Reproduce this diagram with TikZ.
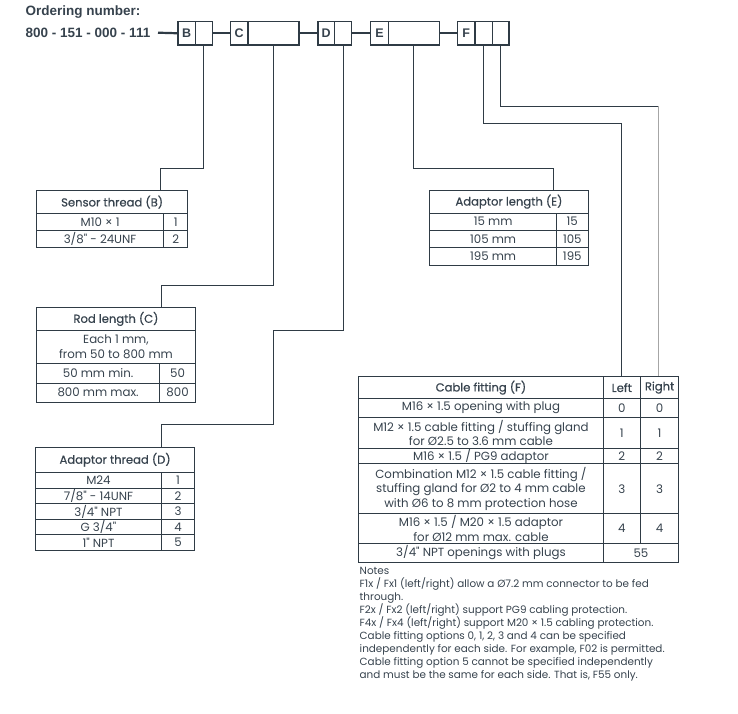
\documentclass[tikz,border=0pt]{standalone}
\usepackage{fontspec}
\setmainfont{Poppins}
\newfontfamily\hdrfont{Liberation Sans}
\newfontfamily\medfont[FakeBold=0.6]{Poppins}
\newfontfamily\plainpop[Ligatures=ResetAll]{Poppins}
\newcommand\inchmark{{\plainpop\symbol{34}}}
\definecolor{linec}{HTML}{2F3B45}
\definecolor{textc}{HTML}{36424D}
\begin{document}
\begin{tikzpicture}[x=1pt,y=-1pt,
  every node/.style={text=textc},
  hdr/.style={font=\hdrfont\bfseries\fontsize{13.5}{15}\selectfont, inner sep=0pt, anchor=west},
  hbox/.style={draw=linec, line width=1.2pt, anchor=north west, inner sep=0pt, minimum height=23.3pt, font=\hdrfont\bfseries\fontsize{12.5}{14}\selectfont},
  link/.style={draw=linec, line width=2.2pt},
  conn/.style={draw=linec, line width=1pt},
  cell/.style={draw=linec, line width=0.9pt, anchor=north west, inner sep=0pt, align=center, font=\fontsize{11.8}{14.6}\selectfont},
  hcell/.style={cell, font=\medfont\fontsize{11.6}{13}\selectfont},
  notes/.style={anchor=north west, inner sep=0pt, align=left, font=\fontsize{10.4}{12.9}\selectfont}
]
\useasboundingbox (0,0) rectangle (738,713);

% header
\node[hdr] (ordlbl) at (25.5,12) {Ordering number:};
\node[hdr] (ordnum) at (25.5,33) {800 - 151 - 000 - 111};

\node[hbox, minimum width=17.7pt] (bB) at (177.3,21) {B};
\node[hbox, minimum width=16.7pt] (vB) at (195,21) {};
\node[hbox, minimum width=17.3pt] (bC) at (230,21) {C};
\node[hbox, minimum width=51pt] (vC) at (247.3,21) {};
\node[hbox, minimum width=16.7pt] (bD) at (317.3,21) {D};
\node[hbox, minimum width=17pt] (vD) at (334,21) {};
\node[hbox, minimum width=17.7pt] (bE) at (370,21) {E};
\node[hbox, minimum width=51.3pt] (vE) at (387.7,21) {};
\node[hbox, minimum width=17.6pt] (bF) at (456.7,21) {F};
\node[hbox, minimum width=17.4pt] (vFl) at (474.3,21) {};
\node[hbox, minimum width=16.6pt] (vFr) at (491.7,21) {};

\coordinate (lstart) at (158,32.7);
\draw[link] (lstart) -- (bB.west);
\draw[link] (vB.east) -- (bC.west);
\draw[link] (vC.east) -- (bD.west);
\draw[link] (vD.east) -- (bE.west);
\draw[link] (vE.east) -- (bF.west);

% Sensor thread table
\node[hcell, minimum width=151.3pt, minimum height=23.3pt] (sH) at (36,190) {Sensor thread (B)};
\node[cell, minimum width=127.3pt, minimum height=16.7pt] (s1a) at (36,213.3) {M10 × 1};
\node[cell, minimum width=24pt, minimum height=16.7pt] (s1b) at (163.3,213.3) {1};
\node[cell, minimum width=127.3pt, minimum height=16.7pt] (s2a) at (36,230) {3/8\inchmark{} - 24UNF};
\node[cell, minimum width=24pt, minimum height=16.7pt] (s2b) at (163.3,230) {2};

% Rod length table
\node[hcell, minimum width=159pt, minimum height=23pt] (rH) at (36,307) {Rod length (C)};
\node[cell, minimum width=159pt, minimum height=32.7pt] (r1) at (36,330) {Each 1 mm,\\from 50 to 800 mm};
\node[cell, minimum width=123.3pt, minimum height=20pt] (r2a) at (36,362.7) {50 mm min.};
\node[cell, minimum width=35.7pt, minimum height=20pt] (r2b) at (159.3,362.7) {50};
\node[cell, minimum width=123.3pt, minimum height=19pt] (r3a) at (36,382.7) {800 mm max.};
\node[cell, minimum width=35.7pt, minimum height=19pt] (r3b) at (159.3,382.7) {800};

% Adaptor thread table
\node[hcell, minimum width=159.3pt, minimum height=24.7pt] (aH) at (35,447) {Adaptor thread (D)};
\node[cell, minimum width=126pt, minimum height=16pt] (a1a) at (35,471.7) {M24};
\node[cell, minimum width=33.3pt, minimum height=16pt] (a1b) at (161,471.7) {1};
\node[cell, minimum width=126pt, minimum height=15.6pt] (a2a) at (35,487.7) {7/8\inchmark{} - 14UNF};
\node[cell, minimum width=33.3pt, minimum height=15.6pt] (a2b) at (161,487.7) {2};
\node[cell, minimum width=126pt, minimum height=15.4pt] (a3a) at (35,503.3) {3/4\inchmark{} NPT};
\node[cell, minimum width=33.3pt, minimum height=15.4pt] (a3b) at (161,503.3) {3};
\node[cell, minimum width=126pt, minimum height=15.6pt] (a4a) at (35,518.7) {G 3/4\inchmark};
\node[cell, minimum width=33.3pt, minimum height=15.6pt] (a4b) at (161,518.7) {4};
\node[cell, minimum width=126pt, minimum height=15.7pt] (a5a) at (35,534.3) {1\inchmark{} NPT};
\node[cell, minimum width=33.3pt, minimum height=15.7pt] (a5b) at (161,534.3) {5};

% Adaptor length table
\node[hcell, minimum width=158.4pt, minimum height=22.5pt] (eH) at (429.3,190) {Adaptor length (E)};
\node[cell, minimum width=126.7pt, minimum height=17pt] (e1a) at (429.3,212.5) {15 mm};
\node[cell, minimum width=31.7pt, minimum height=17pt] (e1b) at (556,212.5) {15};
\node[cell, minimum width=126.7pt, minimum height=17.5pt] (e2a) at (429.3,229.5) {105 mm};
\node[cell, minimum width=31.7pt, minimum height=17.5pt] (e2b) at (556,229.5) {105};
\node[cell, minimum width=126.7pt, minimum height=17.5pt] (e3a) at (429.3,247) {195 mm};
\node[cell, minimum width=31.7pt, minimum height=17.5pt] (e3b) at (556,247) {195};

% Cable fitting table
\node[hcell, minimum width=244.4pt, minimum height=22.3pt] (cH) at (358.3,376) {Cable fitting (F)};
\node[hcell, minimum width=37.3pt, minimum height=22.3pt] (cHL) at (602.7,376) {Left};
\node[hcell, minimum width=38.3pt, minimum height=22.3pt] (cHR) at (640,376) {Right};
\node[cell, minimum width=244.4pt, minimum height=18.4pt] (c1a) at (358.3,398.3) {M16 × 1.5 opening with plug};
\node[cell, minimum width=37.3pt, minimum height=18.4pt] (c1b) at (602.7,398.3) {0};
\node[cell, minimum width=38.3pt, minimum height=18.4pt] (c1c) at (640,398.3) {0};
\node[cell, minimum width=244.4pt, minimum height=31.6pt] (c2a) at (358.3,416.7) {M12 × 1.5 cable fitting / stuffing gland\\for Ø2.5 to 3.6 mm cable};
\node[cell, minimum width=37.3pt, minimum height=31.6pt] (c2b) at (602.7,416.7) {1};
\node[cell, minimum width=38.3pt, minimum height=31.6pt] (c2c) at (640,416.7) {1};
\node[cell, minimum width=244.4pt, minimum height=15pt] (c3a) at (358.3,448.3) {M16 × 1.5 / PG9 adaptor};
\node[cell, minimum width=37.3pt, minimum height=15pt] (c3b) at (602.7,448.3) {2};
\node[cell, minimum width=38.3pt, minimum height=15pt] (c3c) at (640,448.3) {2};
\node[cell, minimum width=244.4pt, minimum height=50pt] (c4a) at (358.3,463.3) {Combination M12 × 1.5 cable fitting /\\stuffing gland for Ø2 to 4 mm cable\\with Ø6 to 8 mm protection hose};
\node[cell, minimum width=37.3pt, minimum height=50pt] (c4b) at (602.7,463.3) {3};
\node[cell, minimum width=38.3pt, minimum height=50pt] (c4c) at (640,463.3) {3};
\node[cell, minimum width=244.4pt, minimum height=30pt] (c5a) at (358.3,513.3) {M16 × 1.5 / M20 × 1.5 adaptor\\for Ø12 mm max. cable};
\node[cell, minimum width=37.3pt, minimum height=30pt] (c5b) at (602.7,513.3) {4};
\node[cell, minimum width=38.3pt, minimum height=30pt] (c5c) at (640,513.3) {4};
\node[cell, minimum width=244.4pt, minimum height=18.4pt] (c6a) at (358.3,543.3) {3/4\inchmark{} NPT openings with plugs};
\node[cell, minimum width=75.6pt, minimum height=18.4pt] (c6b) at (602.7,543.3) {55};

% Notes
\node[notes] (nts) at (359.5,567.5) {Notes\\
F1x / Fx1 (left/right) allow a Ø7.2 mm connector to be fed\\
through.\\
F2x / Fx2 (left/right) support PG9 cabling protection.\\
F4x / Fx4 (left/right) support M20 × 1.5 cabling protection.\\
Cable fitting options 0, 1, 2, 3 and 4 can be specified\\
independently for each side. For example, F02 is permitted.\\
Cable fitting option 5 cannot be specified independently\\
and must be the same for each side. That is, F55 only.};

% connectors
\coordinate (Bin) at (160,190);
\coordinate (Cin) at (161.7,307);
\coordinate (Din) at (161,447);
\coordinate (Ein) at (553.3,190);
\coordinate (FLin) at (621.5,376);
\coordinate (FRin) at (658.7,376);
\coordinate (Dk1) at (273.3,330.3);
\coordinate (Dk2) at (273.3,424);
\coordinate (FRk) at (658.7,106);

\draw[conn] (vB.south) |- (160,168) -- (Bin);
\draw[conn] (vC.south) |- (161.7,285) -- (Cin);
\draw[conn] (vD.south) |- (Dk1) -- (Dk2) -| (Din);
\draw[conn] (vE.south) |- (553.3,168.3) -- (Ein);
\draw[conn] (vFl.south) |- (621.5,123.3) -- (FLin);
\draw[conn] (vFr.south) |- (FRk);
\draw[draw=gray!70, line width=1pt] (FRk) -- (FRin);
\end{tikzpicture}
\end{document}
